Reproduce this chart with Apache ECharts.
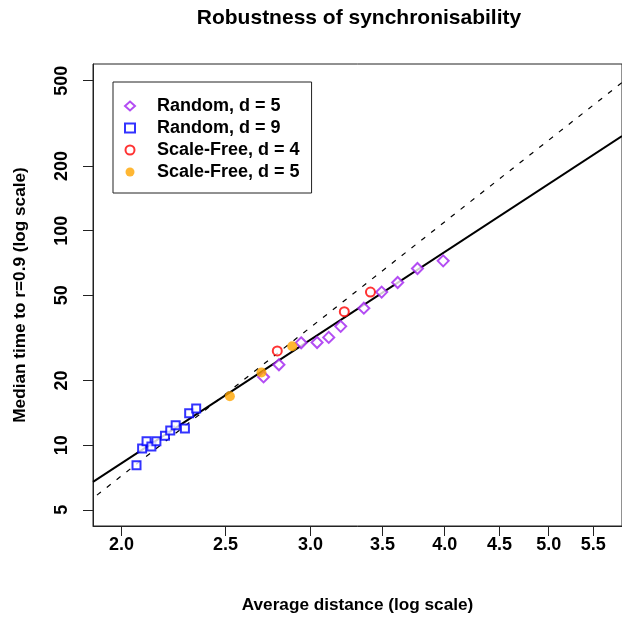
<!DOCTYPE html>
<html>
<head>
<meta charset="utf-8">
<script src="https://cdn.jsdelivr.net/npm/echarts@6/dist/echarts.min.js"></script>
<style>
  html, body { margin: 0; padding: 0; background: #fff; }
  #chart { width: 622px; height: 619px; }
</style>
</head>
<body>
<div id="chart"></div>
<script>
// axis ranges and ticks (both axes on log scale)
let xRange = [1.881, 5.851];
let yRange = [4.2, 598];
let xTicks = [2.0, 2.5, 3.0, 3.5, 4.0, 4.5, 5.0, 5.5];
let yTicks = [5, 10, 20, 50, 100, 200, 500];

// Random, d = 5
let rand5X = [2.712, 2.803, 2.940, 3.042, 3.119, 3.200, 3.363, 3.494, 3.616, 3.773, 3.987];
let rand5Y = [20.8, 23.7, 30.0, 30.1, 31.8, 35.8, 43.5, 51.7, 57.3, 66.6, 72.3];
// Random, d = 9
let rand9X = [2.065, 2.090, 2.110, 2.132, 2.155, 2.195, 2.220, 2.246, 2.291, 2.312, 2.347];
let rand9Y = [8.07, 9.65, 10.44, 9.86, 10.44, 11.05, 11.71, 12.39, 11.96, 14.09, 14.82];
// Scale-Free, d = 4
let sf4X = [2.793, 3.225, 3.411];
let sf4Y = [27.5, 41.9, 51.7];
// Scale-Free, d = 5
let sf5X = [2.523, 2.700, 2.884];
let sf5Y = [16.9, 21.8, 28.9];

// fitted line (solid) and reference line (dashed), end points
let fitX = [1.881, 5.851];
let fitY = [6.75, 276];
let refX = [1.897, 5.851];
let refY = [5.85, 490];

let lg = Math.log10;
let pts = (xs, ys) => xs.map((x, i) => [lg(x), lg(ys[i])]);

let font = 'Liberation Sans, Arial, Helvetica, sans-serif';
let boxColor = '#222';

let myChart = echarts.init(document.getElementById('chart'), null, {renderer: 'canvas'});
myChart.setOption({
  animation: false,
  backgroundColor: '#fff',
  title: {
    text: 'Robustness of synchronisability',
    left: 354,
    top: 3,
    textAlign: 'center',
    textStyle: {fontFamily: font, fontSize: 21, fontWeight: 'bold', color: '#000'}
  },
  grid: {
    left: 93,
    top: 64,
    right: -3,
    bottom: 92,
    show: true,
    borderColor: boxColor,
    borderWidth: 1
  },
  legend: {
    orient: 'vertical',
    left: 113,
    top: 82,
    itemWidth: 10,
    itemHeight: 9,
    itemGap: 4,
    padding: [15, 12, 12, 11],
    borderColor: boxColor,
    borderWidth: 1,
    backgroundColor: '#fff',
    textStyle: {fontFamily: font, fontSize: 18, fontWeight: 'bold', color: '#000', lineHeight: 18, padding: [0, 0, 0, 17]},
    data: ['Random, d = 5', 'Random, d = 9', 'Scale-Free, d = 4', 'Scale-Free, d = 5']
  },
  xAxis: {
    type: 'value',
    min: lg(xRange[0]),
    max: lg(xRange[1]),
    name: 'Average distance (log scale)',
    nameLocation: 'middle',
    nameGap: 71,
    nameTextStyle: {fontFamily: font, fontSize: 17.2, fontWeight: 'bold', color: '#000'},
    splitLine: {show: false},
    axisLine: {show: true, lineStyle: {color: boxColor}},
    axisTick: {show: true, length: 10, customValues: xTicks.map(lg), lineStyle: {color: boxColor}},
    axisLabel: {
      customValues: xTicks.map(lg),
      margin: 10,
      fontFamily: font, fontSize: 18, fontWeight: 'bold', color: '#000',
      formatter: v => Math.pow(10, v).toFixed(1)
    }
  },
  yAxis: {
    type: 'value',
    min: lg(yRange[0]),
    max: lg(yRange[1]),
    name: 'Median time to r=0.9 (log scale)',
    nameLocation: 'middle',
    nameGap: 64,
    nameTextStyle: {fontFamily: font, fontSize: 17.2, fontWeight: 'bold', color: '#000'},
    splitLine: {show: false},
    axisLine: {show: true, lineStyle: {color: boxColor}},
    axisTick: {show: true, length: 10, customValues: yTicks.map(lg), lineStyle: {color: boxColor}},
    axisLabel: {
      customValues: yTicks.map(lg),
      rotate: 90,
      margin: 22,
      fontFamily: font, fontSize: 18, fontWeight: 'bold', color: '#000',
      formatter: v => String(Math.round(Math.pow(10, v)))
    }
  },
  series: [
    {
      type: 'line',
      data: pts(fitX, fitY),
      symbol: 'none',
      lineStyle: {color: '#000', width: 2},
      silent: true,
      z: 1
    },
    {
      type: 'line',
      data: pts(refX, refY),
      symbol: 'none',
      lineStyle: {color: '#000', width: 1.2, type: [5, 7.5]},
      silent: true,
      z: 1
    },
    {
      name: 'Random, d = 5',
      type: 'scatter',
      symbol: 'emptyDiamond',
      symbolSize: 11,
      itemStyle: {color: '#A020F0', borderWidth: 1},
      data: pts(rand5X, rand5Y),
      z: 3
    },
    {
      name: 'Random, d = 9',
      type: 'scatter',
      symbol: 'emptyRect',
      symbolSize: 8,
      itemStyle: {color: '#0000FF', borderWidth: 1},
      data: pts(rand9X, rand9Y),
      z: 3
    },
    {
      name: 'Scale-Free, d = 4',
      type: 'scatter',
      symbol: 'emptyCircle',
      symbolSize: 9,
      itemStyle: {color: '#FF0000', borderWidth: 1},
      data: pts(sf4X, sf4Y),
      z: 3
    },
    {
      name: 'Scale-Free, d = 5',
      type: 'scatter',
      symbol: 'circle',
      symbolSize: 10,
      itemStyle: {color: '#FFA500'},
      data: pts(sf5X, sf5Y),
      z: 3
    }
  ]
});
</script>
</body>
</html>
